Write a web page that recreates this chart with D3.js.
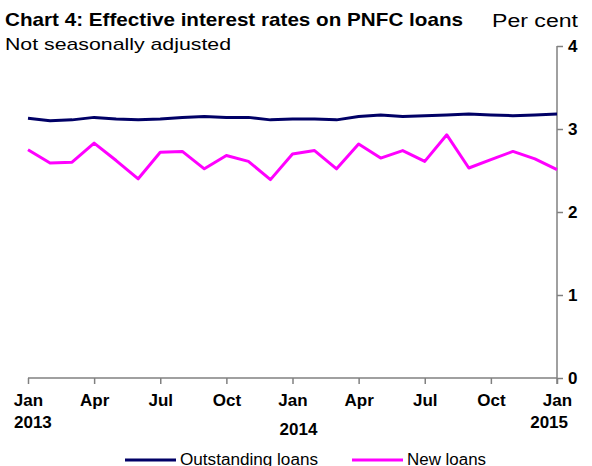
<!DOCTYPE html>
<html>
<head>
<meta charset="utf-8">
<script src="https://cdn.jsdelivr.net/npm/d3@7"></script>
<style>
  body { margin: 0; background: #fff; }
  text { font-family: "Liberation Sans", Arial, sans-serif; }
</style>
</head>
<body>
<svg id="chart" width="592" height="466"></svg>
<script>
'use strict';

// monthly data, Jan 2013 .. Jan 2015
const months = d3.range(25).map(i => new Date(2013, i, 1));
const outstanding = [3.13, 3.10, 3.11, 3.14, 3.12, 3.11, 3.12, 3.14, 3.15, 3.14, 3.14, 3.11, 3.12,
                     3.12, 3.11, 3.15, 3.17, 3.15, 3.16, 3.17, 3.18, 3.17, 3.16, 3.17, 3.18];
const newLoans = [2.75, 2.59, 2.60, 2.83, 2.62, 2.40, 2.72, 2.73, 2.52, 2.68, 2.61, 2.39, 2.70,
                  2.74, 2.52, 2.82, 2.65, 2.74, 2.61, 2.93, 2.53, 2.63, 2.73, 2.64, 2.51];
const yTicks = [0, 1, 2, 3, 4];
const monthLabels = ['Jan', 'Apr', 'Jul', 'Oct', 'Jan', 'Apr', 'Jul', 'Oct', 'Jan'];
const yearLabels = [
  {text: '2013', idx: 0},
  {text: '2014', idx: 12},
  {text: '2015', idx: 24}
];
const series = [
  {name: 'Outstanding loans', values: outstanding, color: '#000066'},
  {name: 'New loans', values: newLoans, color: '#ff00ff'}
];

const svg = d3.select('#chart');
const axisColor = '#808080';

const x = d3.scaleLinear().domain([0, months.length - 1]).range([28, 557]);
const y = d3.scaleLinear().domain([0, 4]).range([378, 46]);

// titles (the original text is a bit wider than the font, so stretch it)
svg.append('text').attr('x', 5).attr('y', 26)
  .attr('font-size', 19).attr('font-weight', 'bold')
  .attr('textLength', 458).attr('lengthAdjust', 'spacingAndGlyphs')
  .text('Chart 4: Effective interest rates on PNFC loans');
svg.append('text').attr('x', 5).attr('y', 50)
  .attr('font-size', 17)
  .attr('textLength', 226).attr('lengthAdjust', 'spacingAndGlyphs')
  .text('Not seasonally adjusted');
svg.append('text').attr('x', 492).attr('y', 27)
  .attr('font-size', 18)
  .attr('textLength', 86).attr('lengthAdjust', 'spacingAndGlyphs')
  .text('Per cent');

// y axis on the right
const yAxis = d3.axisRight(y).tickValues(yTicks).tickSize(6).tickPadding(5).tickFormat(d3.format('d'));
const gy = svg.append('g').attr('transform', `translate(${x(24)},0)`).call(yAxis);
gy.select('.domain').attr('stroke', axisColor).attr('stroke-width', 1.5).attr('d', `M0,${y(4)}V${y(0) + 6}`);
gy.selectAll('.tick line').attr('stroke', axisColor).attr('stroke-width', 1.5);
gy.selectAll('.tick text')
  .attr('font-size', 17).attr('font-weight', 'bold').attr('fill', '#000')
  .attr('font-family', '"Liberation Sans", Arial, sans-serif');

// x axis
const xAxis = d3.axisBottom(x).tickValues(d3.range(0, 25, 3)).tickSize(6)
  .tickFormat((d, i) => monthLabels[i]).tickPadding(10);
const gx = svg.append('g').attr('transform', `translate(0,${y(0)})`).call(xAxis);
gx.select('.domain').attr('stroke', axisColor).attr('stroke-width', 1.5).attr('d', `M${x(0)},0H${x(24)}`);
gx.selectAll('.tick line').attr('stroke', axisColor).attr('stroke-width', 1.5);
gx.selectAll('.tick text')
  .attr('font-size', 17).attr('font-weight', 'bold').attr('fill', '#000')
  .attr('font-family', '"Liberation Sans", Arial, sans-serif');

// year labels under the month ticks
svg.selectAll('.year').data(yearLabels).enter().append('text')
  .attr('class', 'year')
  .attr('x', d => d.idx === 0 ? x(d.idx) - 14 : d.idx === 24 ? x(d.idx) + 11 : x(d.idx) + 6)
  .attr('y', d => d.idx === 12 ? 435 : 428)
  .attr('text-anchor', d => d.idx === 0 ? 'start' : d.idx === 24 ? 'end' : 'middle')
  .attr('font-size', 17).attr('font-weight', 'bold')
  .text(d => d.text);

// lines
const line = d3.line().x((d, i) => x(i)).y(d => y(d));
svg.selectAll('.series').data(series).enter().append('path')
  .attr('class', 'series')
  .attr('d', d => line(d.values))
  .attr('fill', 'none')
  .attr('stroke', d => d.color)
  .attr('stroke-width', 3)
  .attr('stroke-linejoin', 'round');

// legend, sits right at the bottom edge like the original
const legendX = [125, 352];
const legendW = [138, 79];
const legend = svg.selectAll('.legend').data(series).enter().append('g')
  .attr('class', 'legend')
  .attr('transform', (d, i) => `translate(${legendX[i]},460)`);
legend.append('line').attr('x1', 0).attr('x2', 51).attr('y1', 0).attr('y2', 0)
  .attr('stroke', d => d.color).attr('stroke-width', 3);
legend.append('text').attr('x', 55).attr('y', 5)
  .attr('font-size', 16)
  .attr('textLength', (d, i) => legendW[i]).attr('lengthAdjust', 'spacingAndGlyphs')
  .text(d => d.name);
</script>
</body>
</html>
